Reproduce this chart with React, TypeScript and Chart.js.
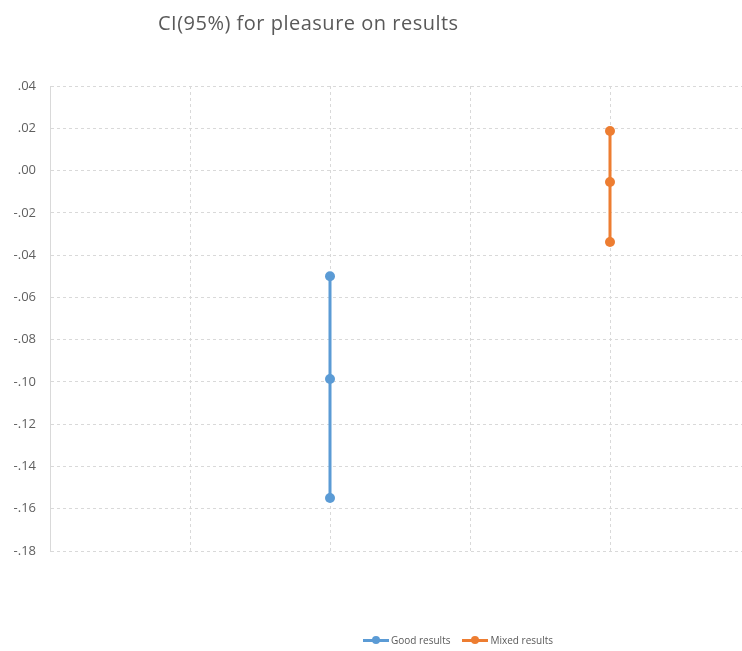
import React, { useEffect, useRef } from "react";
import { Chart, registerables } from "chart.js";

Chart.register(...registerables);

const chartTitle = "CI(95%) for pleasure on results";
const seriesNames = ["Good results", "Mixed results"];
const seriesColors = ["#5B9BD5", "#ED7D31"];
const seriesX = [2, 4];
// upper bound, mean, lower bound
const goodValues = [-0.05, -0.0986, -0.1549];
const mixedValues = [0.0187, -0.0054, -0.0338];
const yMin = -0.18;
const yMax = 0.04;
const yStep = 0.02;
const xGridTicks = [1, 2, 3, 4];

const fmt = (v: number) => {
  const n = Math.abs(v) < 1e-9 ? 0 : v;
  return n.toFixed(2).replace("0.", ".");
};

export default function App() {
  const ref = useRef<HTMLCanvasElement | null>(null);

  useEffect(() => {
    if (!ref.current) return;
    const values = [goodValues, mixedValues];
    const chart = new Chart(ref.current, {
      type: "scatter",
      data: {
        datasets: seriesNames.map((name, i) => ({
          label: name,
          data: values[i].map((y) => ({ x: seriesX[i], y })),
          showLine: true,
          borderColor: seriesColors[i],
          backgroundColor: seriesColors[i],
          borderWidth: 3,
          pointRadius: 5,
          pointBorderWidth: 0,
          pointHoverRadius: 5,
        })),
      },
      options: {
        responsive: false,
        animation: false,
        events: [],
        layout: { padding: { top: 86, bottom: 100, left: 0, right: 0 } },
        plugins: {
          legend: { display: false },
          title: { display: false },
          tooltip: { enabled: false },
        },
        scales: {
          x: {
            type: "linear",
            min: 0,
            max: 692 / 140,
            afterBuildTicks: (scale: any) => {
              scale.ticks = xGridTicks.map((v) => ({ value: v }));
            },
            afterFit: (scale: any) => {
              scale.height = 0;
              scale.paddingLeft = 0;
              scale.paddingRight = 0;
            },
            ticks: { display: false },
            grid: { color: "#d9d9d9", drawTicks: false, lineWidth: 1 },
            border: { display: false, dash: [3, 3] },
          },
          y: {
            type: "linear",
            min: yMin,
            max: yMax,
            afterFit: (scale: any) => {
              scale.width = 50;
              scale.paddingTop = 0;
              scale.paddingBottom = 0;
            },
            ticks: {
              stepSize: yStep,
              padding: 14,
              color: "#5f5f5f",
              font: { family: "'Open Sans', sans-serif", size: 13 },
              callback: (v: any) => fmt(Number(v)),
            },
            grid: { color: "#d9d9d9", drawTicks: false, lineWidth: 1 },
            border: { display: true, color: "#d9d9d9", width: 1, dash: [3, 3] },
          },
        },
      },
    });
    (chart.options.scales as any).x.border.dash = [3, 3];
    chart.update();
    return () => chart.destroy();
  }, []);

  return (
    <div
      style={{
        position: "absolute",
        left: 0,
        top: 0,
        width: 742,
        height: 651,
        background: "#fff",
        overflow: "hidden",
      }}
    >
      <canvas ref={ref} width={747} height={651} style={{ position: "absolute", left: 0, top: 0 }} />
      <div
        style={{
          position: "absolute",
          left: 158,
          top: 9,
          fontFamily: "'Open Sans', sans-serif",
          fontSize: 20,
          letterSpacing: 0.5,
          color: "#595959",
          whiteSpace: "nowrap",
        }}
      >
        {chartTitle}
      </div>
      <div
        style={{
          position: "absolute",
          left: 363,
          top: 633,
          display: "flex",
          alignItems: "center",
          fontFamily: "'Open Sans', sans-serif",
          fontSize: 10,
          color: "#595959",
          whiteSpace: "nowrap",
        }}
      >
        {seriesNames.map((name, i) => (
          <div key={name} style={{ display: "flex", alignItems: "center", marginRight: 12 }}>
            <div style={{ position: "relative", width: 26, height: 3, background: seriesColors[i], marginRight: 2 }}>
              <div
                style={{
                  position: "absolute",
                  left: 9,
                  top: -2.5,
                  width: 8,
                  height: 8,
                  borderRadius: 4,
                  background: seriesColors[i],
                }}
              />
            </div>
            <span>{name}</span>
          </div>
        ))}
      </div>
    </div>
  );
}
